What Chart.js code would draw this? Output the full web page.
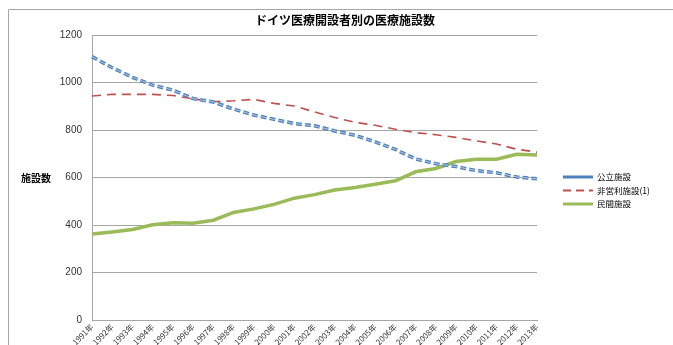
<!DOCTYPE html>
<html>
<head>
<meta charset="utf-8">
<script src="https://cdn.jsdelivr.net/npm/chart.js@4"></script>
<style>
  body { margin: 0; background: #fff; }
  #wrap { width: 673px; height: 345px; }
</style>
</head>
<body>
<div id="wrap"><canvas id="myChart"></canvas></div>
<script>
const years = ['1991年', '1992年', '1993年', '1994年', '1995年', '1996年', '1997年', '1998年', '1999年', '2000年',
  '2001年', '2002年', '2003年', '2004年', '2005年', '2006年', '2007年', '2008年', '2009年', '2010年',
  '2011年', '2012年', '2013年'];

const publicCount = [1109, 1062, 1022, 989, 968, 932, 918, 888, 863, 845, 827, 818, 796, 778, 750, 718, 678, 658, 646, 629, 620, 602, 595];
const nonprofitCount = [943, 950, 950, 950, 945, 931, 919, 923, 929, 912, 901, 876, 853, 832, 820, 803, 789, 780, 769, 754, 741, 719, 707];
const privateCount = [362, 371, 381, 401, 409, 407, 420, 453, 468, 487, 513, 528, 547, 558, 572, 586, 624, 638, 667, 677, 677, 698, 695];

const seriesNames = ['公立施設', '非営利施設(1)', '民間施設'];
const yTicks = [0, 200, 400, 600, 800, 1000, 1200];

const chartTitle = 'ドイツ医療開設者別の医療施設数';
const yTitle = '施設数';

// title, y label, legend and frame drawn by hand
const extras = {
  id: 'extras',
  afterDatasetsDraw(chart) {
    // light core on the blue line, like the double line in the original
    const pts = chart.getDatasetMeta(0).data;
    const c = chart.ctx;
    c.save();
    c.strokeStyle = 'rgba(255,255,255,0.55)';
    c.lineWidth = 1;
    c.setLineDash([6, 3]);
    c.beginPath();
    pts.forEach((p, i) => i ? c.lineTo(p.x, p.y) : c.moveTo(p.x, p.y));
    c.stroke();
    c.restore();
  },
  afterDraw(chart) {
    const c = chart.ctx;
    c.save();
    c.strokeStyle = '#a6a6a6';
    c.lineWidth = 1;
    c.beginPath();
    c.moveTo(8.5, 345);
    c.lineTo(8.5, 9.5);
    c.lineTo(673, 9.5);
    c.stroke();

    c.fillStyle = '#000';
    c.font = 'bold 12px "Noto Sans CJK JP"';
    c.textAlign = 'center';
    c.textBaseline = 'middle';
    c.fillText(chartTitle, 345, 20);

    c.font = 'bold 10px "Noto Sans CJK JP"';
    c.textAlign = 'left';
    c.fillText(yTitle, 21, 178);

    // legend
    c.font = '8.5px "Noto Sans CJK JP"';
    chart.data.datasets.forEach((ds, i) => {
      const y = 177 + i * 13.5;
      c.strokeStyle = ds.borderColor;
      c.lineWidth = i == 1 ? 2 : 3;
      c.setLineDash(i == 1 ? [8, 5] : []);
      c.beginPath();
      c.moveTo(563, y);
      c.lineTo(593, y);
      c.stroke();
      c.setLineDash([]);
      c.fillStyle = '#000';
      c.fillText(ds.label, 597, y);
    });
    c.restore();
  }
};

const ctx = document.getElementById('myChart');

new Chart(ctx, {
  type: 'line',
  data: {
    labels: years,
    datasets: [
      {
        label: seriesNames[0],
        data: publicCount,
        borderColor: '#4f81bd',
        borderWidth: 3.5,
        borderDash: [6, 3],
        pointRadius: 0,
        tension: 0
      },
      {
        label: seriesNames[1],
        data: nonprofitCount,
        borderColor: '#c0504d',
        borderWidth: 1.6,
        borderDash: [9, 6],
        pointRadius: 0,
        tension: 0
      },
      {
        label: seriesNames[2],
        data: privateCount,
        borderColor: '#9bbb59',
        borderWidth: 3.5,
        pointRadius: 0,
        tension: 0
      }
    ]
  },
  options: {
    responsive: true,
    maintainAspectRatio: false,
    animation: false,
    layout: {
      padding: { top: 35, right: 136, left: 0, bottom: 0 }
    },
    plugins: {
      legend: { display: false },
      title: { display: false },
      tooltip: { enabled: false }
    },
    scales: {
      x: {
        offset: false,
        grid: { display: false, drawTicks: false },
        border: { color: '#a6a6a6' },
        ticks: {
          color: '#333',
          font: { size: 8, family: 'Noto Sans CJK JP' },
          maxRotation: 45,
          minRotation: 45,
          autoSkip: false,
          padding: 2
        },
        afterFit(scale) { scale.height = 25; }
      },
      y: {
        min: 0,
        max: 1200,
        afterBuildTicks(scale) { scale.ticks = yTicks.map(v => ({ value: v })); },
        grid: { color: '#a6a6a6', drawTicks: false },
        border: { color: '#a6a6a6' },
        ticks: {
          color: '#333',
          font: { size: 10, family: 'Liberation Sans' },
          padding: 10,
          callback: v => String(v)
        },
        afterFit(scale) { scale.width = 92; }
      }
    }
  },
  plugins: [extras]
});
</script>
</body>
</html>
